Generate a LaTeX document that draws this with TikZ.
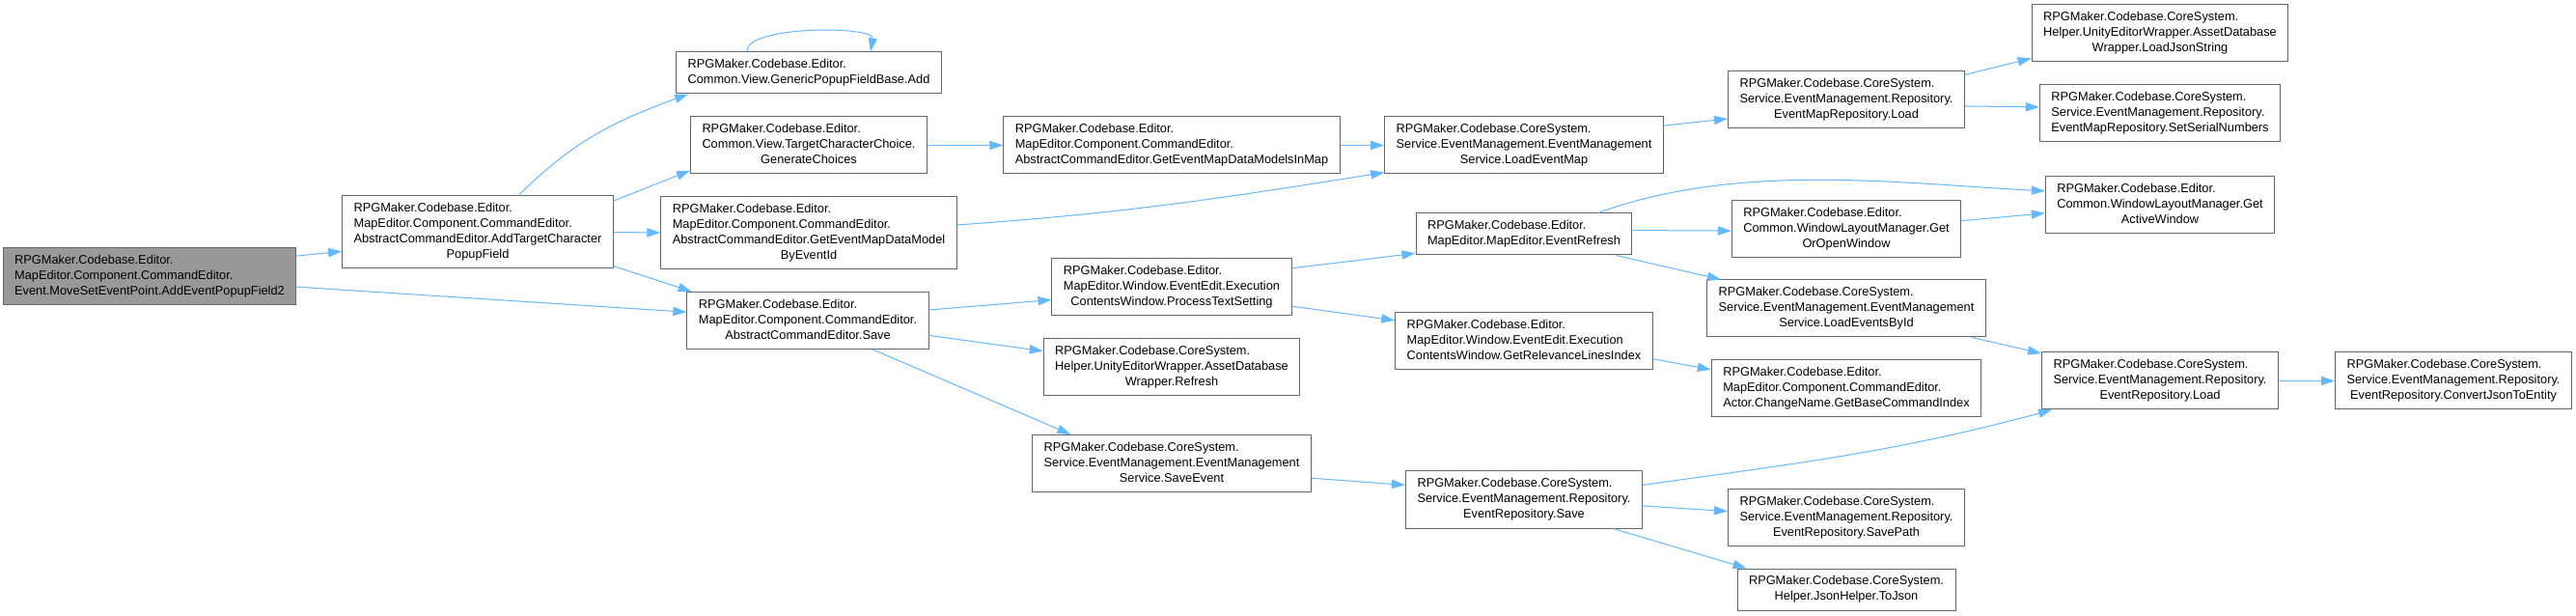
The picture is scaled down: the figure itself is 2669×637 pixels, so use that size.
\documentclass[tikz,border=0pt]{standalone}
\usepackage{fontspec}
\setmainfont{Liberation Sans}
\usetikzlibrary{arrows.meta, positioning}
\definecolor{edgeblue}{RGB}{99,184,255}
\definecolor{boxgray}{RGB}{102,102,102}
\definecolor{rootgray}{RGB}{153,153,153}
% label: upper lines flush left, last line centred
\newcommand{\fnlabel}[2]{\begin{tabular}{@{}l@{}}#1\\\multicolumn{1}{@{}c@{}}{#2}\end{tabular}}
\tikzset{
  fnbox/.style={rectangle, draw=boxgray, fill=white, line width=0.5pt,
    inner xsep=6pt, inner ysep=2.75pt, font=\fontsize{6.4}{8}\selectfont},
  rootbox/.style={fnbox, fill=rootgray},
  callarrow/.style={-{Triangle[length=7pt,width=4.6pt]}, draw=edgeblue, line width=0.5pt}
}
\begin{document}
\begin{tikzpicture}[x=0.5pt, y=0.5pt]
  \fill[white] (0,0) rectangle (2669,637);
  \useasboundingbox (0,0) rectangle (2669,637);

  % rank 0 and 1
  \node[rootbox] (root) at (155,350.5) {\fnlabel{RPGMaker.Codebase.Editor.\\MapEditor.Component.CommandEditor.}{Event.MoveSetEventPoint.AddEventPopupField2}};
  \node[fnbox] (addtc) at (495,396.5) {\fnlabel{RPGMaker.Codebase.Editor.\\MapEditor.Component.CommandEditor.\\AbstractCommandEditor.AddTargetCharacter}{PopupField}};

  % rank 2
  \node[fnbox] (gadd) at (838,561.5) {\fnlabel{RPGMaker.Codebase.Editor.}{Common.View.GenericPopupFieldBase.Add}};
  \node[fnbox] (gench) at (838,486.5) {\fnlabel{RPGMaker.Codebase.Editor.\\Common.View.TargetCharacterChoice.}{GenerateChoices}};
  \node[fnbox] (getbyid) at (838,396) {\fnlabel{RPGMaker.Codebase.Editor.\\MapEditor.Component.CommandEditor.\\AbstractCommandEditor.GetEventMapDataModel}{ByEventId}};
  \node[fnbox] (save) at (837,305) {\fnlabel{RPGMaker.Codebase.Editor.\\MapEditor.Component.CommandEditor.}{AbstractCommandEditor.Save}};

  % rank 3
  \node[fnbox] (getinmap) at (1214,486.5) {\fnlabel{RPGMaker.Codebase.Editor.\\MapEditor.Component.CommandEditor.}{AbstractCommandEditor.GetEventMapDataModelsInMap}};
  \node[fnbox] (proctext) at (1214,339.5) {\fnlabel{RPGMaker.Codebase.Editor.\\MapEditor.Window.EventEdit.Execution}{ContentsWindow.ProcessTextSetting}};
  \node[fnbox] (refresh) at (1214,257) {\fnlabel{RPGMaker.Codebase.CoreSystem.\\Helper.UnityEditorWrapper.AssetDatabase}{Wrapper.Refresh}};
  \node[fnbox] (saveev) at (1214,157) {\fnlabel{RPGMaker.Codebase.CoreSystem.\\Service.EventManagement.EventManagement}{Service.SaveEvent}};

  % rank 4
  \node[fnbox] (loadmap) at (1579,486.5) {\fnlabel{RPGMaker.Codebase.CoreSystem.\\Service.EventManagement.EventManagement}{Service.LoadEventMap}};
  \node[fnbox] (evrefresh) at (1579,394.5) {\fnlabel{RPGMaker.Codebase.Editor.}{MapEditor.MapEditor.EventRefresh}};
  \node[fnbox] (getlines) at (1579,284) {\fnlabel{RPGMaker.Codebase.Editor.\\MapEditor.Window.EventEdit.Execution}{ContentsWindow.GetRelevanceLinesIndex}};
  \node[fnbox] (reposave) at (1579,119.5) {\fnlabel{RPGMaker.Codebase.CoreSystem.\\Service.EventManagement.Repository.}{EventRepository.Save}};

  % rank 5
  \node[fnbox] (maprepload) at (1913,533.5) {\fnlabel{RPGMaker.Codebase.CoreSystem.\\Service.EventManagement.Repository.}{EventMapRepository.Load}};
  \node[fnbox] (getopen) at (1913,400) {\fnlabel{RPGMaker.Codebase.Editor.\\Common.WindowLayoutManager.Get}{OrOpenWindow}};
  \node[fnbox] (loadbyid) at (1913,317.5) {\fnlabel{RPGMaker.Codebase.CoreSystem.\\Service.EventManagement.EventManagement}{Service.LoadEventsById}};
  \node[fnbox] (basecmd) at (1913,234.5) {\fnlabel{RPGMaker.Codebase.Editor.\\MapEditor.Component.CommandEditor.}{Actor.ChangeName.GetBaseCommandIndex}};
  \node[fnbox] (savepath) at (1913,101) {\fnlabel{RPGMaker.Codebase.CoreSystem.\\Service.EventManagement.Repository.}{EventRepository.SavePath}};
  \node[fnbox] (tojson) at (1913,26.5) {\fnlabel{RPGMaker.Codebase.CoreSystem.}{Helper.JsonHelper.ToJson}};

  % rank 6 and 7
  \node[fnbox] (loadjson) at (2238,602.5) {\fnlabel{RPGMaker.Codebase.CoreSystem.\\Helper.UnityEditorWrapper.AssetDatabase}{Wrapper.LoadJsonString}};
  \node[fnbox] (serial) at (2238,519.5) {\fnlabel{RPGMaker.Codebase.CoreSystem.\\Service.EventManagement.Repository.}{EventMapRepository.SetSerialNumbers}};
  \node[fnbox] (active) at (2238,424.5) {\fnlabel{RPGMaker.Codebase.Editor.\\Common.WindowLayoutManager.Get}{ActiveWindow}};
  \node[fnbox] (repoload) at (2238,242.5) {\fnlabel{RPGMaker.Codebase.CoreSystem.\\Service.EventManagement.Repository.}{EventRepository.Load}};
  \node[fnbox] (convert) at (2542,242.5) {\fnlabel{RPGMaker.Codebase.CoreSystem.\\Service.EventManagement.Repository.}{EventRepository.ConvertJsonToEntity}};

  % calls
  \draw[callarrow] (root.8) -- (addtc.188);
  \draw[callarrow] (root.356) -- (save.176);
  \draw[callarrow] (addtc.42) to[out=45,in=200] (gadd.190);
  \draw[callarrow] (gadd.161) to[out=95,in=80,looseness=0.55] (gadd.19);
  \draw[callarrow] (addtc.13) -- (gench.192);
  \draw[callarrow] (addtc.east) -- (getbyid.west);
  \draw[callarrow] (addtc.346) -- (save.166);
  \draw[callarrow] (gench) -- (getinmap);
  \draw[callarrow] (getinmap) -- (loadmap);
  \draw[callarrow] (getbyid.3) to[out=4,in=189] (loadmap.191);
  \draw[callarrow] (loadmap.8) -- (maprepload.189);
  \draw[callarrow] (maprepload.12) -- (loadjson.191);
  \draw[callarrow] (maprepload.357) -- (serial.177);
  \draw[callarrow] (save.5) -- (proctext.186);
  \draw[callarrow] (save.353) -- (refresh.173);
  \draw[callarrow] (save.336) -- (saveev.164);
  \draw[callarrow] (proctext.9) -- (evrefresh.190);
  \draw[callarrow] (proctext.351) -- (getlines.171);
  \draw[callarrow] (evrefresh.16) to[out=20,in=177,looseness=0.85] (active.173);
  \draw[callarrow] (evrefresh.2) -- (getopen.181);
  \draw[callarrow] (evrefresh.347) -- (loadbyid.167);
  \draw[callarrow] (getlines.352) -- (basecmd.172);
  \draw[callarrow] (getopen.4) -- (active.184);
  \draw[callarrow] (loadbyid.347) -- (repoload.167);
  \draw[callarrow] (saveev.354) -- (reposave.173);
  \draw[callarrow] (repoload) -- (convert);
  \draw[callarrow] (reposave.7) to[out=8,in=195] (repoload.195);
  \draw[callarrow] (reposave.357) -- (savepath.177);
  \draw[callarrow] (reposave.342) -- (tojson.168);
\end{tikzpicture}
\end{document}
